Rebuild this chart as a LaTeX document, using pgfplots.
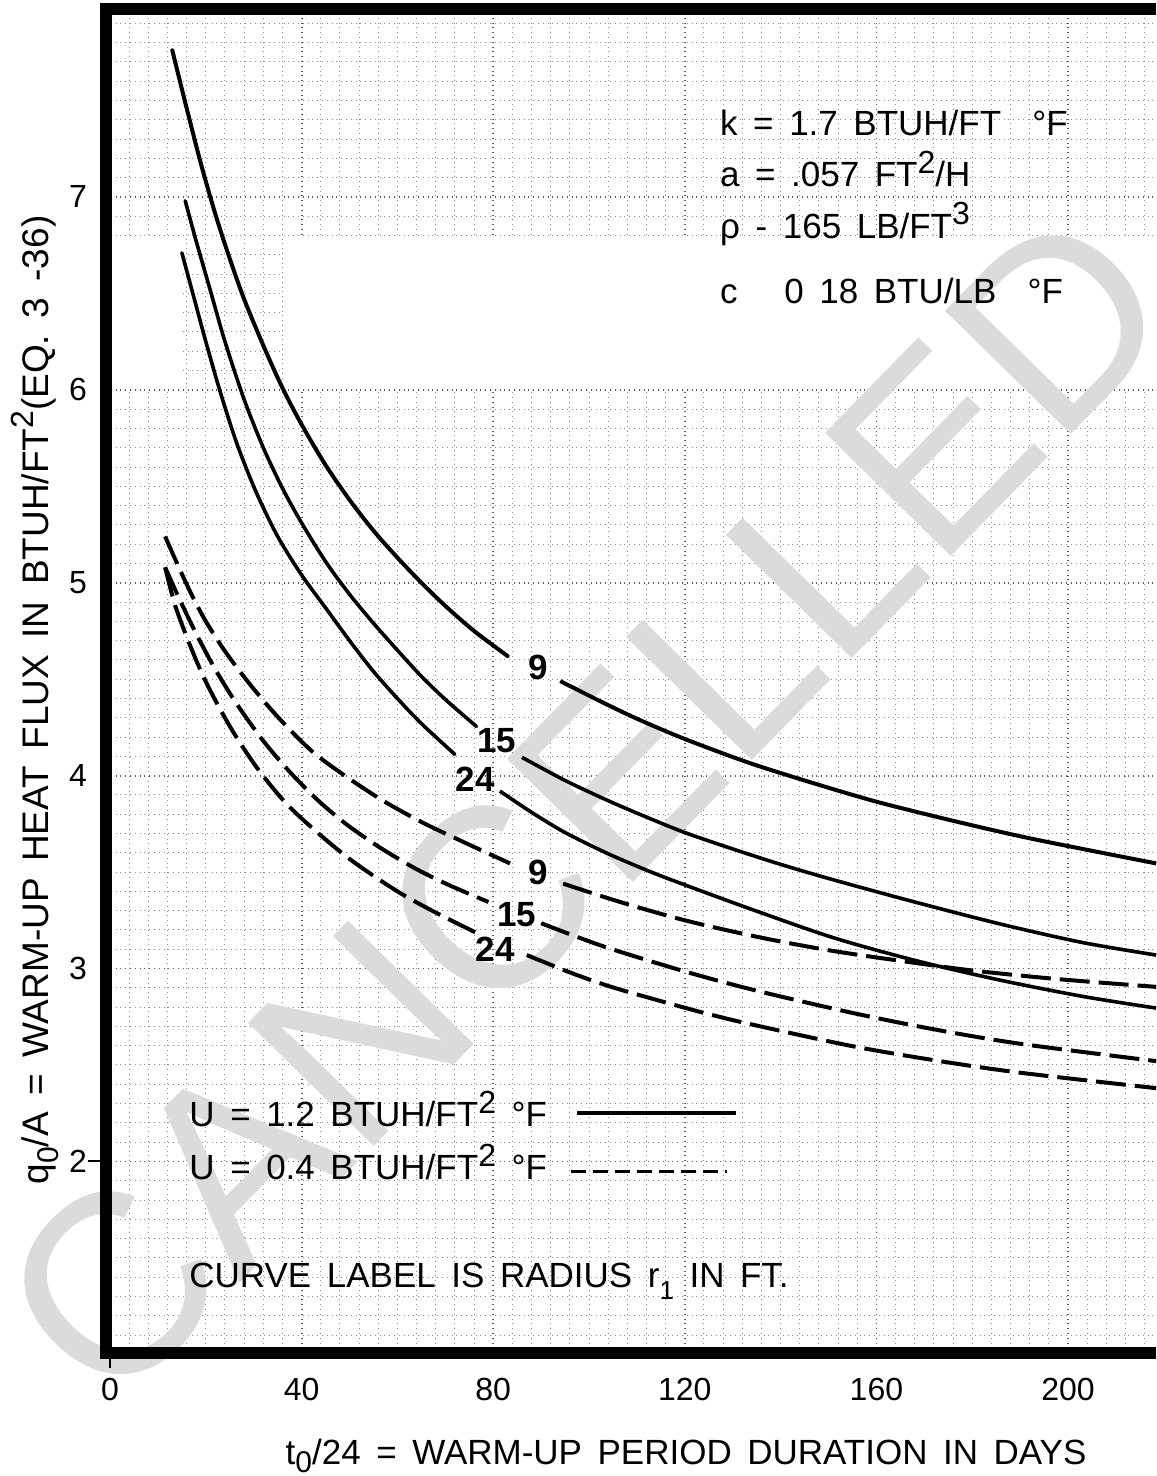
\documentclass[border=0pt]{standalone}
\usepackage{fontspec}
\setmainfont{Liberation Sans}[WordSpace=1.6]
\newfontfamily\wmfont{Liberation Sans}
\usepackage{pgfplots}
\pgfplotsset{compat=1.18}
\newcommand{\fs}[1]{\fontsize{#1}{#1}\selectfont}
\begin{document}
\begin{tikzpicture}
\begin{axis}[
  at={(0,0)}, anchor=south west,
  x=2.395pt, y=96.45pt,
  xmin=-0.84, xmax=218.37, ymin=1.007, ymax=7.975,
  axis line style={draw=none},
  xtick={0,40,...,200}, ytick={2,...,7},
  minor xtick={4,8,...,216}, minor ytick={1.1,1.2,...,7.95},
  major tick length=0pt, minor tick length=0pt,
  grid=both,
  minor grid style={black!45, dotted, line width=0.5pt},
  major grid style={black!65, dotted, line width=0.9pt},
  clip=false,
  /pgf/number format/assume math mode=true,
  tick label style={font=\fs{16}},
  xticklabel style={yshift=-9pt},
  yticklabel style={xshift=-6pt},
]
% blank areas of the grid
\fill[white] (axis cs:36.2,6.012) rectangle (axis cs:218.37,6.79);
\fill[white] (axis cs:-0.84,6.012) rectangle (axis cs:14.6,6.79);
% watermark
\node[rotate=45.6, text=black!14, font=\wmfont\fs{128}] at (axis cs:99.2,3.848) {CANCELLED};

\pgfplotsset{every axis plot/.append style={smooth, tension=0.5}}
% U = 1.2 (solid)
\addplot[line width=2pt, line cap=round] coordinates {(13,7.76) (16,7.46) (19,7.17) (22,6.91) (25,6.68) (28,6.47) (32,6.23) (36,6.01) (40,5.82) (45,5.61) (50,5.43) (55,5.27) (60,5.13) (65,5.00) (70,4.88) (76,4.75) (83,4.62)};
\addplot[line width=2pt] coordinates {(94,4.49) (102,4.39) (110,4.295) (120,4.19) (133,4.07) (145,3.975) (160,3.865) (177,3.76) (193,3.67) (218.4,3.545)};
\addplot[line width=1.8pt, line cap=round] coordinates {(15.7,6.98) (18,6.77) (21,6.51) (24,6.25) (28,5.95) (32,5.70) (36,5.49) (40,5.31) (45,5.11) (50,4.94) (55,4.79) (60,4.65) (65,4.515) (70,4.395) (76.5,4.255)};
\addplot[line width=1.8pt] coordinates {(86,4.095) (95,3.975) (104,3.87) (112,3.785) (120,3.705) (130,3.62) (140,3.54) (151,3.46) (168,3.345) (186,3.23) (203,3.135) (218.4,3.07)};
\addplot[line width=1.8pt, line cap=round] coordinates {(15,6.71) (17.5,6.48) (20,6.25) (23,5.99) (26.5,5.72) (30.5,5.47) (35,5.24) (40,5.04) (45,4.87) (50,4.70) (55,4.54) (60,4.40) (65,4.27) (72,4.11)};
\addplot[line width=1.8pt] coordinates {(81.4,3.92) (88,3.81) (95,3.705) (104,3.595) (113,3.50) (120.4,3.43) (133.6,3.31) (151,3.16) (168.4,3.04) (185.8,2.94) (203.2,2.855) (218.4,2.795)};

% U = 0.4 (dashed)
\pgfplotsset{dsh/.style={line width=2pt, dash pattern=on 15pt off 4.5pt}}
\addplot[dsh] coordinates {(11.5,5.24) (14,5.10) (17,4.94) (20,4.80) (24,4.645) (29,4.48) (35,4.305) (42,4.13) (49,4.00) (57,3.87) (65,3.76) (73,3.665) (83.5,3.545)};
\addplot[dsh] coordinates {(94.6,3.44) (106.5,3.345) (120,3.25) (135,3.165) (150,3.095) (165,3.04) (180,2.99) (198,2.945) (218.4,2.905)};
\addplot[dsh] coordinates {(11.5,5.08) (14.5,4.915) (18,4.735) (22,4.55) (26.5,4.37) (32,4.18) (37.5,4.02) (43.5,3.87) (49.5,3.745) (56.5,3.625) (64,3.515) (71,3.43) (79,3.345)};
\addplot[dsh] coordinates {(90,3.235) (103,3.115) (120,2.985) (135,2.885) (155,2.77) (172,2.685) (190,2.61) (218.4,2.52)};
\addplot[dsh] coordinates {(11.5,5.08) (13.5,4.89) (16,4.72) (19,4.54) (22,4.39) (26,4.215) (31,4.03) (37,3.85) (44,3.69) (51,3.55) (60,3.40) (68,3.29) (76.5,3.185)};
\addplot[dsh] coordinates {(87,3.07) (96,2.98) (104,2.91) (113,2.845) (124,2.77) (134,2.71) (154.5,2.60) (172,2.525) (190,2.46) (218.4,2.38)};

% curve labels
\begin{scope}[every node/.style={font=\bfseries\fs{17.5}, inner sep=0pt}]
\node at (axis cs:89.4,4.56) {9};
\node at (axis cs:80.7,4.18) {15};
\node at (axis cs:76.2,3.98) {24};
\node at (axis cs:89.4,3.50) {9};
\node at (axis cs:84.9,3.28) {15};
\node at (axis cs:80.4,3.10) {24};
\end{scope}

% parameters
\begin{scope}[every node/.style={font=\fs{17.5}, inner sep=0pt, anchor=base west}]
\node at (axis cs:127.3,7.321) {k = 1.7 BTUH/FT \ °F};
\node at (axis cs:127.3,7.052) {a = .057 FT\raisebox{0.75ex}{\fs{16}2}/H};
\node at (axis cs:127.3,6.787) {ρ - 165 LB/FT\raisebox{0.75ex}{\fs{16}3}};
\node at (axis cs:127.3,6.450) {c \ \ 0 18 BTU/LB \ °F};
% legend
\node at (axis cs:16.5,2.179) {U = 1.2 BTUH/FT\raisebox{0.75ex}{\fs{16}2} °F};
\node at (axis cs:16.5,1.904) {U = 0.4 BTUH/FT\raisebox{0.75ex}{\fs{16}2} °F};
\node at (axis cs:16.5,1.344) {CURVE LABEL IS RADIUS r\raisebox{-0.6ex}{\fs{13}1} IN FT.};
\end{scope}
\draw[line width=1.6pt] (axis cs:97.5,2.251) -- (axis cs:130.6,2.251);
\draw[line width=1.6pt, dash pattern=on 7.5pt off 3.5pt] (axis cs:96.2,1.946) -- (axis cs:128.8,1.946);

% axis labels
\node[anchor=base, inner sep=0pt, font=\fs{17.5}] at (axis cs:120.25,0.43) {t\raisebox{-0.45ex}{\fs{15}0}/24 = WARM-UP PERIOD DURATION IN DAYS};
\node[anchor=base, rotate=90, inner sep=0pt, font=\fs{18.5}] at (axis cs:-12.94,4.392) {q\raisebox{-0.55ex}{\fs{15}0}/A = WARM-UP HEAT FLUX IN BTUH/FT\raisebox{0.75ex}{\fs{16}2}(EQ. 3 -36)};

% frame
\draw[line width=5.8pt, line join=miter] (rel axis cs:1,1) -- (rel axis cs:0,1) -- (rel axis cs:0,0) -- (rel axis cs:1,0);
\draw[line width=1pt] (axis cs:-4.6,2) -- (axis cs:-0.84,2);
\draw[line width=1pt] (axis cs:0,1.007) -- (axis cs:0,0.93);
\end{axis}
\pgfresetboundingbox
\path[use as bounding box] (-53pt,-61.5pt) rectangle (525pt,676.5pt);
\end{tikzpicture}
\end{document}
